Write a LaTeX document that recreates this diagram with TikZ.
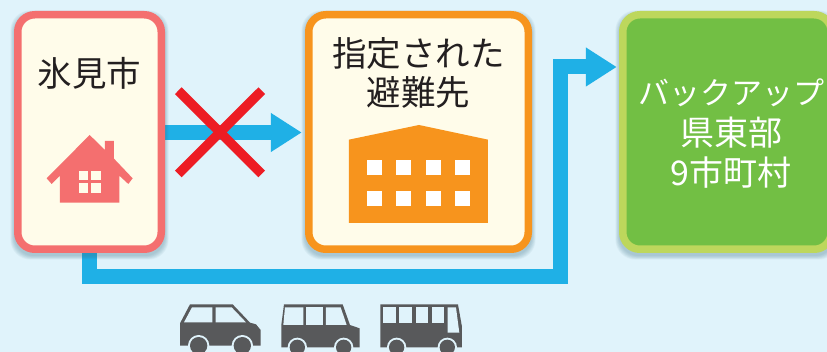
\documentclass[tikz,border=0pt]{standalone}
\usepackage{fontspec}
\setmainfont{Noto Sans CJK JP}
\usetikzlibrary{arrows.meta}
\definecolor{bgc}{HTML}{E0F3FB}
\definecolor{cream}{HTML}{FFFCEA}
\definecolor{pinkc}{HTML}{F46F6F}
\definecolor{orangec}{HTML}{F7941D}
\definecolor{limec}{HTML}{BDD75C}
\definecolor{greenc}{HTML}{72BF44}
\definecolor{bluec}{HTML}{1FB0E6}
\definecolor{redc}{HTML}{ED1C24}
\definecolor{inkc}{HTML}{231F20}
\definecolor{grayc}{HTML}{58595B}
\definecolor{shadowc}{HTML}{3A6A80}
\pgfdeclarelayer{arrowlayer}
\pgfdeclarelayer{shadowlayer}
\pgfsetlayers{arrowlayer,shadowlayer,main}
\tikzset{
  boxbase/.style={rectangle,rounded corners=17pt,line width=7.5pt,minimum height=234.5pt,outer sep=0pt,inner sep=0pt},
  pinkbox/.style={boxbase,draw=pinkc,fill=cream,minimum width=143.5pt},
  orangebox/.style={boxbase,draw=orangec,fill=cream,minimum width=219.5pt},
  greenbox/.style={boxbase,draw=limec,fill=greenc,minimum width=208.5pt},
  darklabel/.style={text=inkc,align=center,inner sep=0pt,font=\fontsize{34.5}{39.5}\selectfont},
  whitelabel/.style={text=white,align=center,inner sep=0pt,font=\fontsize{34}{40.5}\selectfont},
  flow/.style={draw=bluec,line width=15pt,miter limit=10,-{Triangle[length=31pt,width=37pt]}},
  crossbar/.style={draw=redc,line width=9.4pt},
  vehicle/.style={fill=grayc},
  glass/.style={fill=bgc},
  wheelhalo/.style={fill=bgc},
  wheel/.style={fill=grayc},
}
\newcommand{\softshade}[4]{% x0 y0 x1 y1 (outer edge)
  \foreach \g in {6,5,4,3,2,1,0}{
    \fill[shadowc,opacity=0.05,rounded corners=20pt]
      (#1-\g*0.6,#2+3-\g*0.6) rectangle (#3+\g*0.6,#4+3+\g*0.6);
  }
}
\begin{document}
\begin{tikzpicture}[x=1pt,y=-1pt]
\useasboundingbox (0,0) rectangle (827,352);
\begin{pgfonlayer}{arrowlayer}
  \fill[bgc] (0,0) rectangle (827,352);
\end{pgfonlayer}
\begin{pgfonlayer}{shadowlayer}
  \softshade{14}{11}{165}{253}
  \softshade{305}{11}{532}{253}
  \softshade{619}{11}{835}{253}
\end{pgfonlayer}

\node[pinkbox] (home) at (89.5,132) {};
\node[orangebox] (shelter) at (418.5,132) {};
\node[greenbox] (backup) at (727,132) {};

\node[darklabel] (homelabel) at (89.5,73.5) {氷見市};
\node[darklabel] (shelterlabel) at (418.5,73) {指定された\\避難先};
\node[whitelabel] (backuplabel) at (731,134) {{\fontsize{31}{40.5}\selectfont バックアップ}\\県東部\\9市町村};

\coordinate (bendA) at (560.5,276.5);
\coordinate (bendB) at (560.5,67);
\begin{pgfonlayer}{arrowlayer}
  \draw[flow,shorten >=7pt] (home.east |- 0,132.5) -- (shelter.west |- 0,132.5);
  \draw[flow,shorten >=6pt] (home.south) |- (bendA) -- (bendB) -- (backup.west |- bendB);
\end{pgfonlayer}

% red cross
\draw[crossbar] (178.3,90.7) -- (261.7,174);
\draw[crossbar] (261.7,90.7) -- (178.3,174);

% house
\begin{scope}[x=0.3333pt,y=-0.3333pt]
  \fill[pinkc] (269,405) -- (315,450) -- (315,423) -- (342,423) -- (342,476) -- (398,535) -- (385,552) -- (358,527) -- (358,608) -- (180,608) -- (180,527) -- (155,552) -- (140,535) -- cycle;
  \fill[cream] (236,512) rectangle (264,540);
  \fill[cream] (274,512) rectangle (302,540);
  \fill[cream] (236,550) rectangle (264,578);
  \fill[cream] (274,550) rectangle (302,578);
\end{scope}

% building
\begin{scope}[shift={(300pt,0pt)},x=0.3333pt,y=-0.3333pt]
  \fill[orangec] (147,419) -- (357,375) -- (564,419) -- (564,669) -- (147,669) -- cycle;
  \foreach \wx in {201,288,378,465}{
    \foreach \wy in {480,573}{
      \fill[white] (\wx,\wy) rectangle ++(45,45);
    }
  }
\end{scope}

% vehicles
\begin{scope}[shift={(170pt,-290pt)},x=0.3333pt,y=-0.3333pt]
  % car
  \fill[vehicle] (30,100) -- (60,43) -- (188,43) -- (240,98) -- (258,103) -- (272,120) -- (272,167) -- (30,167) -- cycle;
  \fill[glass] (42,97) -- (66,52) -- (127,52) -- (127,97) -- cycle;
  \fill[glass] (137,52) -- (185,52) -- (228,97) -- (137,97) -- cycle;
  \fill[wheelhalo] (86,167) circle (32);
  \fill[wheelhalo] (217,167) circle (32);
  \fill[wheel] (86,167) circle (26);
  \fill[wheel] (217,167) circle (26);
  % van
  \fill[vehicle] (342,43) -- (518,43) -- (540,105) -- (569,115) -- (569,172) -- (334,172) -- (334,105) -- cycle;
  \fill[glass] (345,52) -- (400,52) -- (400,105) -- (340,105) -- cycle;
  \fill[glass] (408,52) -- (459,52) -- (459,105) -- (408,105) -- cycle;
  \fill[glass] (468,52) -- (512,52) -- (530,105) -- (468,105) -- cycle;
  \fill[wheelhalo] (382,172) circle (29);
  \fill[wheelhalo] (521,172) circle (29);
  \fill[wheel] (382,172) circle (23);
  \fill[wheel] (521,172) circle (23);
  % bus
  \fill[vehicle] (631,43) -- (864,43) -- (876,110) -- (876,172) -- (631,172) -- cycle;
  \fill[glass] (640,52) rectangle (679,100);
  \fill[glass] (688,52) rectangle (727,100);
  \fill[glass] (737,52) rectangle (775,100);
  \fill[glass] (785,52) rectangle (823,100);
  \fill[glass] (833,52) -- (858,52) -- (868,128) -- (833,128) -- cycle;
  \fill[wheelhalo] (680,172) circle (29);
  \fill[wheelhalo] (832,172) circle (29);
  \fill[wheel] (680,172) circle (23);
  \fill[wheel] (832,172) circle (23);
\end{scope}
\end{tikzpicture}
\end{document}
